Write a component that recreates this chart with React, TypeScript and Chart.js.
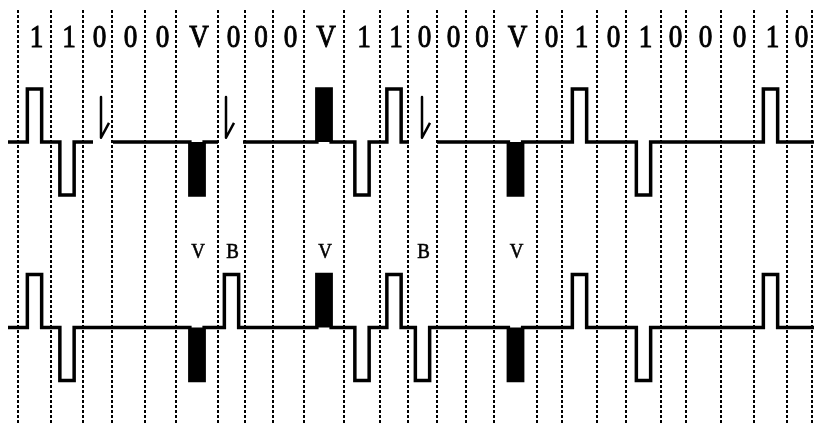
import React, { useEffect, useRef } from 'react';
import { Chart, registerables } from 'chart.js';

Chart.register(...registerables);

// ---- data (time axis in arbitrary units) ----
const bits = ['1','1','0','0','0','V','0','0','0','V','1','1','0','0','0','V','0','1','0','1','0','0','0','1','0'];
const bitEdges = [18, 51, 83, 112, 145, 176, 218, 245, 273, 304, 344, 380, 408, 437, 466, 494, 537, 562, 597, 626, 661, 686, 721, 754, 787, 812];
const topLevels = [1, -1, 0, 0, 0, -1, 0, 0, 0, 1, -1, 1, 0, 0, 0, -1, 0, 1, 0, -1, 0, 0, 0, 1, 0];
const bottomLevels = [1, -1, 0, 0, 0, -1, 1, 0, 0, 1, -1, 1, -1, 0, 0, -1, 0, 1, 0, -1, 0, 0, 0, 1, 0];
const bottomMarks = ['', '', '', '', '', 'V', 'B', '', '', 'V', '', '', 'B', '', '', 'V', '', '', '', '', '', '', '', '', ''];
const topGaps = [[93, 113], [218, 243], [409, 437]];
const gapArrowTimes = [101, 226, 422];
const signalStart = 8;
const signalEnd = 814;

const TOP_BASE = 2;
const BOTTOM_BASE = -1.5;
const DUTY = 0.45;
const X_MIN = 0;
const X_MAX = 814;
const Y_MIN = -3.3;
const Y_MAX = 4.49;
const LABEL_ROW = 3.79;
const MARK_ROW = -0.19;

type P = { x: number; y: number | null };

const period = (bitEdges[bitEdges.length - 1] - bitEdges[0]) / bits.length;
const pulseW = period * DUTY;
const cellCenter = (i: number) => (bitEdges[i] + bitEdges[i + 1]) / 2;

function buildWave(levels: number[], base: number, gaps: number[][]): P[] {
  const pts: P[] = [{ x: signalStart, y: base }];
  levels.forEach((lvl, i) => {
    if (lvl === 0) return;
    const c = cellCenter(i);
    const x0 = c - pulseW / 2;
    const x1 = c + pulseW / 2;
    pts.push({ x: x0, y: base }, { x: x0, y: base + lvl }, { x: x1, y: base + lvl }, { x: x1, y: base });
  });
  gaps.forEach(([g0, g1]) => {
    pts.push({ x: g0, y: base }, { x: (g0 + g1) / 2, y: null }, { x: g1, y: base });
  });
  pts.push({ x: signalEnd, y: base });
  return pts.map((p, k) => ({ p, k })).sort((a, b) => a.p.x - b.p.x || a.k - b.k).map((o) => o.p);
}

function filledPulses(levels: number[], base: number, isV: (i: number) => boolean) {
  const out: any[] = [];
  levels.forEach((lvl, i) => {
    if (lvl === 0 || !isV(i)) return;
    const c = cellCenter(i);
    const x0 = c - pulseW / 2;
    const x1 = c + pulseW / 2;
    out.push({
      type: 'line',
      data: [{ x: x0, y: base }, { x: x0, y: base + lvl }, { x: x1, y: base + lvl }, { x: x1, y: base }],
      borderWidth: 0,
      borderColor: 'rgba(0,0,0,0)',
      backgroundColor: '#000',
      fill: { value: base },
      pointRadius: 0,
      tension: 0,
      order: 3,
    });
  });
  return out;
}

function arrowMarks(): P[] {
  const pts: P[] = [];
  gapArrowTimes.forEach((t) => {
    pts.push({ x: t, y: TOP_BASE + 0.85 }, { x: t, y: TOP_BASE + 0.08 }, { x: t + 8, y: TOP_BASE + 0.36 }, { x: t + 8, y: null });
  });
  return pts;
}

const textPlugin = {
  id: 'waveText',
  afterDatasetsDraw(chart: any) {
    const { ctx, scales } = chart;
    const xs = scales.x;
    const ys = scales.y;
    ctx.save();
    ctx.fillStyle = '#000';
    ctx.strokeStyle = '#000';
    ctx.textAlign = 'center';
    ctx.textBaseline = 'alphabetic';
    const draw = (txt: string, x: number, y: number, font: string, sx: number, sw: number) => {
      ctx.save();
      ctx.translate(x, y);
      ctx.scale(sx, 1);
      ctx.font = font;
      ctx.lineWidth = sw;
      ctx.fillText(txt, 0, 0);
      ctx.strokeText(txt, 0, 0);
      ctx.restore();
    };
    bits.forEach((b, i) => {
      draw(b, xs.getPixelForValue(cellCenter(i)) + 2, ys.getPixelForValue(LABEL_ROW), '32px "Liberation Serif"', 0.85, 1);
    });
    bottomMarks.forEach((m, i) => {
      if (!m) return;
      draw(m, xs.getPixelForValue(cellCenter(i)) + 1, ys.getPixelForValue(MARK_ROW), '21px "Liberation Serif"', 0.9, 0.6);
    });
    ctx.restore();
  },
};

export default function App() {
  const ref = useRef<HTMLCanvasElement | null>(null);
  useEffect(() => {
    if (!ref.current) return;
    const lineStyle = {
      borderColor: '#000',
      borderWidth: 3.5,
      pointRadius: 0,
      tension: 0,
      fill: false,
      spanGaps: false,
      borderJoinStyle: 'miter' as const,
      borderCapStyle: 'butt' as const,
    };
    const chart = new Chart(ref.current, {
      type: 'line',
      data: {
        datasets: [
          { ...lineStyle, label: 'top', data: buildWave(topLevels, TOP_BASE, topGaps), order: 1 },
          { ...lineStyle, label: 'bottom', data: buildWave(bottomLevels, BOTTOM_BASE, []), order: 1 },
          { ...lineStyle, borderWidth: 2.5, borderJoinStyle: 'round' as const, label: 'marks', data: arrowMarks(), order: 2 },
          ...filledPulses(topLevels, TOP_BASE, (i) => bits[i] === 'V'),
          ...filledPulses(bottomLevels, BOTTOM_BASE, (i) => bottomMarks[i] === 'V'),
        ],
      },
      options: {
        animation: false,
        responsive: false,
        events: [],
        layout: { padding: { top: 10, bottom: 7, left: 0, right: 0 } },
        plugins: { legend: { display: false }, tooltip: { enabled: false } },
        scales: {
          x: {
            type: 'linear',
            min: X_MIN,
            max: X_MAX,
            display: true,
            afterBuildTicks: (axis: any) => {
              axis.ticks = bitEdges.map((v) => ({ value: v }));
            },
            ticks: { display: false },
            grid: { color: '#000', lineWidth: 2, drawTicks: false, drawOnChartArea: true },
            border: { display: false, dash: [3, 2] },
          },
          y: {
            type: 'linear',
            min: Y_MIN,
            max: Y_MAX,
            display: false,
          },
        },
      },
      plugins: [textPlugin],
    });
    return () => chart.destroy();
  }, []);
  return (
    <div style={{ position: 'fixed', left: 0, top: 0, width: 814, height: 430, background: '#fff' }}>
      <canvas ref={ref} width={814} height={430} />
    </div>
  );
}
